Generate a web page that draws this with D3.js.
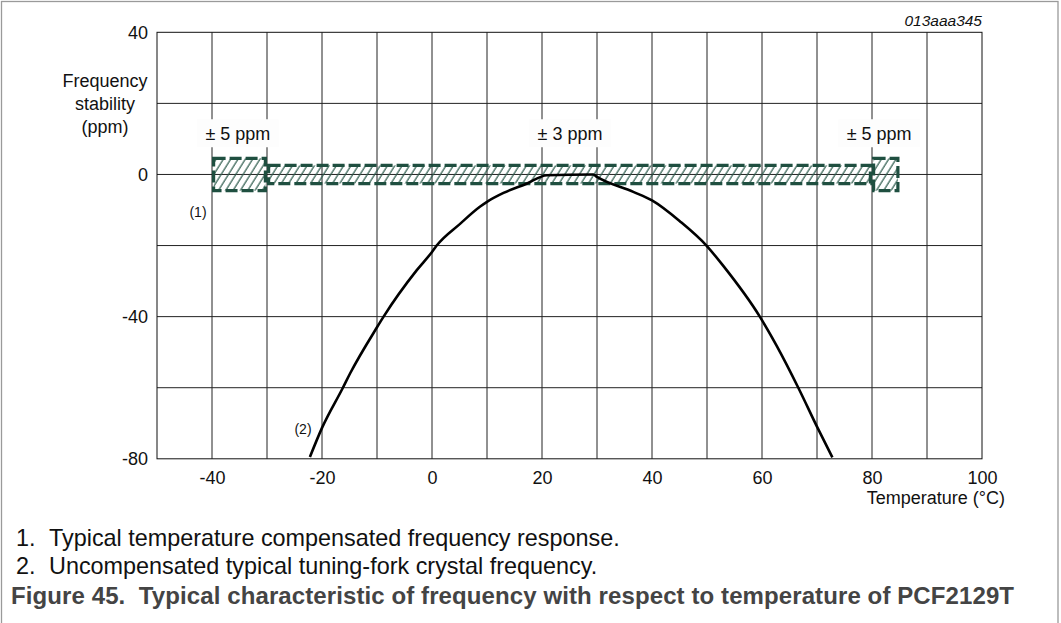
<!DOCTYPE html>
<html>
<head>
<meta charset="utf-8">
<script src="https://cdn.jsdelivr.net/npm/d3@7"></script>
<style>
  html, body { margin: 0; padding: 0; background: #fff; }
  svg { display: block; font-family: "Liberation Sans", Arial, sans-serif; }
</style>
</head>
<body>
<svg id="chart" width="1061" height="623"></svg>
<script>
// ---- data ----
const xDomain = [-50, 100];
const yDomain = [-80, 40];
const xTickLabels = [-40, -20, 0, 20, 40, 60, 80, 100];
const yTickLabels = [40, 0, -40, -80];
const xGrid = [-40, -30, -20, -10, 0, 10, 20, 30, 40, 50, 60, 70, 80, 90];
const yGrid = [20, 0, -20, -40, -60];

// compensated band segments (1): temperature start, end, half-width ppm
const bandStart = [-40, -30, 80];
const bandEnd = [-30, 80, 85];
const bandHalf = [5, 3, 5];
const bandLabels = ["± 5 ppm", "± 3 ppm", "± 5 ppm"];

// uncompensated crystal curve (2)
const curveTemp = [-22.2, -20, -16.2, -14.9, -10, -8.8, -2.8, 0, 0.85, 5.1, 8.7, 10, 13, 17.2, 20.9, 29.3, 30, 36.6, 40, 45.1, 49.9, 53, 59.6, 62.7, 66.6, 70.2, 72.8];
const curvePpm  = [-79.5, -71.3, -60, -56, -43, -40, -27, -21.8, -20, -13.9, -9.1, -7.7, -5.2, -2.6, -0.2, 0, -0.7, -4.9, -7.3, -13.2, -20, -25.8, -40, -48.3, -60, -71.6, -79.6];

const footnotes = ["Typical temperature compensated frequency response.", "Uncompensated typical tuning-fork crystal frequency."];
const caption = "Figure 45.\u00a0\u00a0Typical characteristic of frequency with respect to temperature of PCF2129T";

// ---- drawing ----
const FONT = "Liberation Sans, Arial, sans-serif";
const svg = d3.select("#chart");
const x = d3.scaleLinear().domain(xDomain).range([157, 982]);
const y = d3.scaleLinear().domain(yDomain).range([458.8, 32.3]);

// outer frame
svg.append("rect").attr("x", 1.5).attr("y", 1.5).attr("width", 1056.5).attr("height", 630)
  .attr("fill", "none").attr("stroke", "#9a9a9a").attr("stroke-width", 1.3);

// hatch pattern
const defs = svg.append("defs");
const pat = defs.append("pattern").attr("id", "hatch").attr("patternUnits", "userSpaceOnUse")
  .attr("width", 6.2).attr("height", 10).attr("patternTransform", "rotate(32)");
pat.append("line").attr("x1", 1).attr("y1", 0).attr("x2", 1).attr("y2", 10)
  .attr("stroke", "#2c5a4c").attr("stroke-width", 1.2);

// grid
const g = svg.append("g");
g.selectAll("line.vg").data(xGrid).join("line").attr("class", "vg")
  .attr("x1", d => x(d)).attr("x2", d => x(d)).attr("y1", y(yDomain[1])).attr("y2", y(yDomain[0]))
  .attr("stroke", "#222").attr("stroke-width", 1);
g.selectAll("line.hg").data(yGrid).join("line").attr("class", "hg")
  .attr("y1", d => y(d)).attr("y2", d => y(d)).attr("x1", x(xDomain[0])).attr("x2", x(xDomain[1]))
  .attr("stroke", "#222").attr("stroke-width", 1);
g.append("rect").attr("x", x(xDomain[0])).attr("y", y(yDomain[1]))
  .attr("width", x(xDomain[1]) - x(xDomain[0])).attr("height", y(yDomain[0]) - y(yDomain[1]))
  .attr("fill", "none").attr("stroke", "#111").attr("stroke-width", 1);

// axes labels via d3 axes
const yAxis = d3.axisLeft(y).tickValues(yTickLabels).tickSize(0).tickPadding(9).tickFormat(d => String(d));
const ya = svg.append("g").attr("transform", `translate(${x(xDomain[0])},0)`).call(yAxis);
ya.select(".domain").remove();
ya.selectAll("text").attr("font-size", 18).attr("font-family", FONT).attr("fill", "#111");

const xAxis = d3.axisBottom(x).tickValues(xTickLabels).tickSize(0).tickPadding(12).tickFormat(d => String(d));
const xa = svg.append("g").attr("transform", `translate(0,${y(yDomain[0])})`).call(xAxis);
xa.select(".domain").remove();
xa.selectAll("text").attr("font-size", 18).attr("font-family", FONT).attr("fill", "#111");

// axis titles
const yt = svg.append("text").attr("font-size", 18).attr("fill", "#111").attr("text-anchor", "middle");
["Frequency", "stability", "(ppm)"].forEach((t, i) => {
  yt.append("tspan").attr("x", 105).attr("y", 87 + i * 23).text(t);
});
svg.append("text").attr("x", 1005).attr("y", 504).attr("text-anchor", "end")
  .attr("font-size", 18).attr("fill", "#111").text("Temperature (°C)");

svg.append("text").attr("x", 982).attr("y", 26).attr("text-anchor", "end")
  .attr("font-size", 15.5).attr("font-style", "italic").attr("fill", "#111").text("013aaa345");

// band (1)
const sw = 3.2;
const bandIdx = d3.range(bandStart.length);
svg.append("g").selectAll("rect").data(bandIdx).join("rect")
  .attr("x", i => x(bandStart[i]) + sw / 2)
  .attr("y", i => y(bandHalf[i]) + sw / 2)
  .attr("width", i => x(bandEnd[i]) - x(bandStart[i]) - sw)
  .attr("height", i => y(-bandHalf[i]) - y(bandHalf[i]) - sw)
  .attr("fill", "url(#hatch)")
  .attr("stroke", "#1f4f40").attr("stroke-width", sw)
  .attr("stroke-dasharray", "12,4");

// band labels with white backgrounds
const labelX = [-35.3, 25.1, 81.3];
const lg = svg.append("g");
bandIdx.forEach(i => {
  const cx = x(labelX[i]), cy = y(11.6);
  lg.append("rect").attr("x", cx - 41).attr("y", cy - 14).attr("width", 82).attr("height", 28)
    .attr("fill", "#fdfdfd");
  lg.append("text").attr("x", cx).attr("y", cy + 6.5).attr("text-anchor", "middle")
    .attr("font-size", 18).attr("fill", "#111").text(bandLabels[i]);
});

// curve (2)
const line = d3.line().x(i => x(curveTemp[i])).y(i => y(curvePpm[i])).curve(d3.curveMonotoneX);
svg.append("path").attr("d", line(d3.range(curveTemp.length)))
  .attr("fill", "none").attr("stroke", "#000").attr("stroke-width", 2.6).attr("stroke-linejoin", "round");

// markers (1), (2)
svg.append("text").attr("x", 198).attr("y", 217).attr("text-anchor", "middle")
  .attr("font-size", 14).attr("fill", "#111").text("(1)");
svg.append("text").attr("x", 303).attr("y", 434).attr("text-anchor", "middle")
  .attr("font-size", 14).attr("fill", "#111").text("(2)");

// footnotes
footnotes.forEach((t, i) => {
  svg.append("text").attr("x", 16).attr("y", 546 + i * 28).attr("font-size", 23.4).attr("fill", "#111").text((i + 1) + ".");
  svg.append("text").attr("x", 49).attr("y", 546 + i * 28).attr("font-size", 23.4).attr("fill", "#111").text(t);
});

// caption
svg.append("text").attr("x", 11).attr("y", 604).attr("font-size", 24).attr("font-weight", "bold")
  .attr("fill", "#444").attr("textLength", 1003).attr("lengthAdjust", "spacing").text(caption);
</script>
</body>
</html>
